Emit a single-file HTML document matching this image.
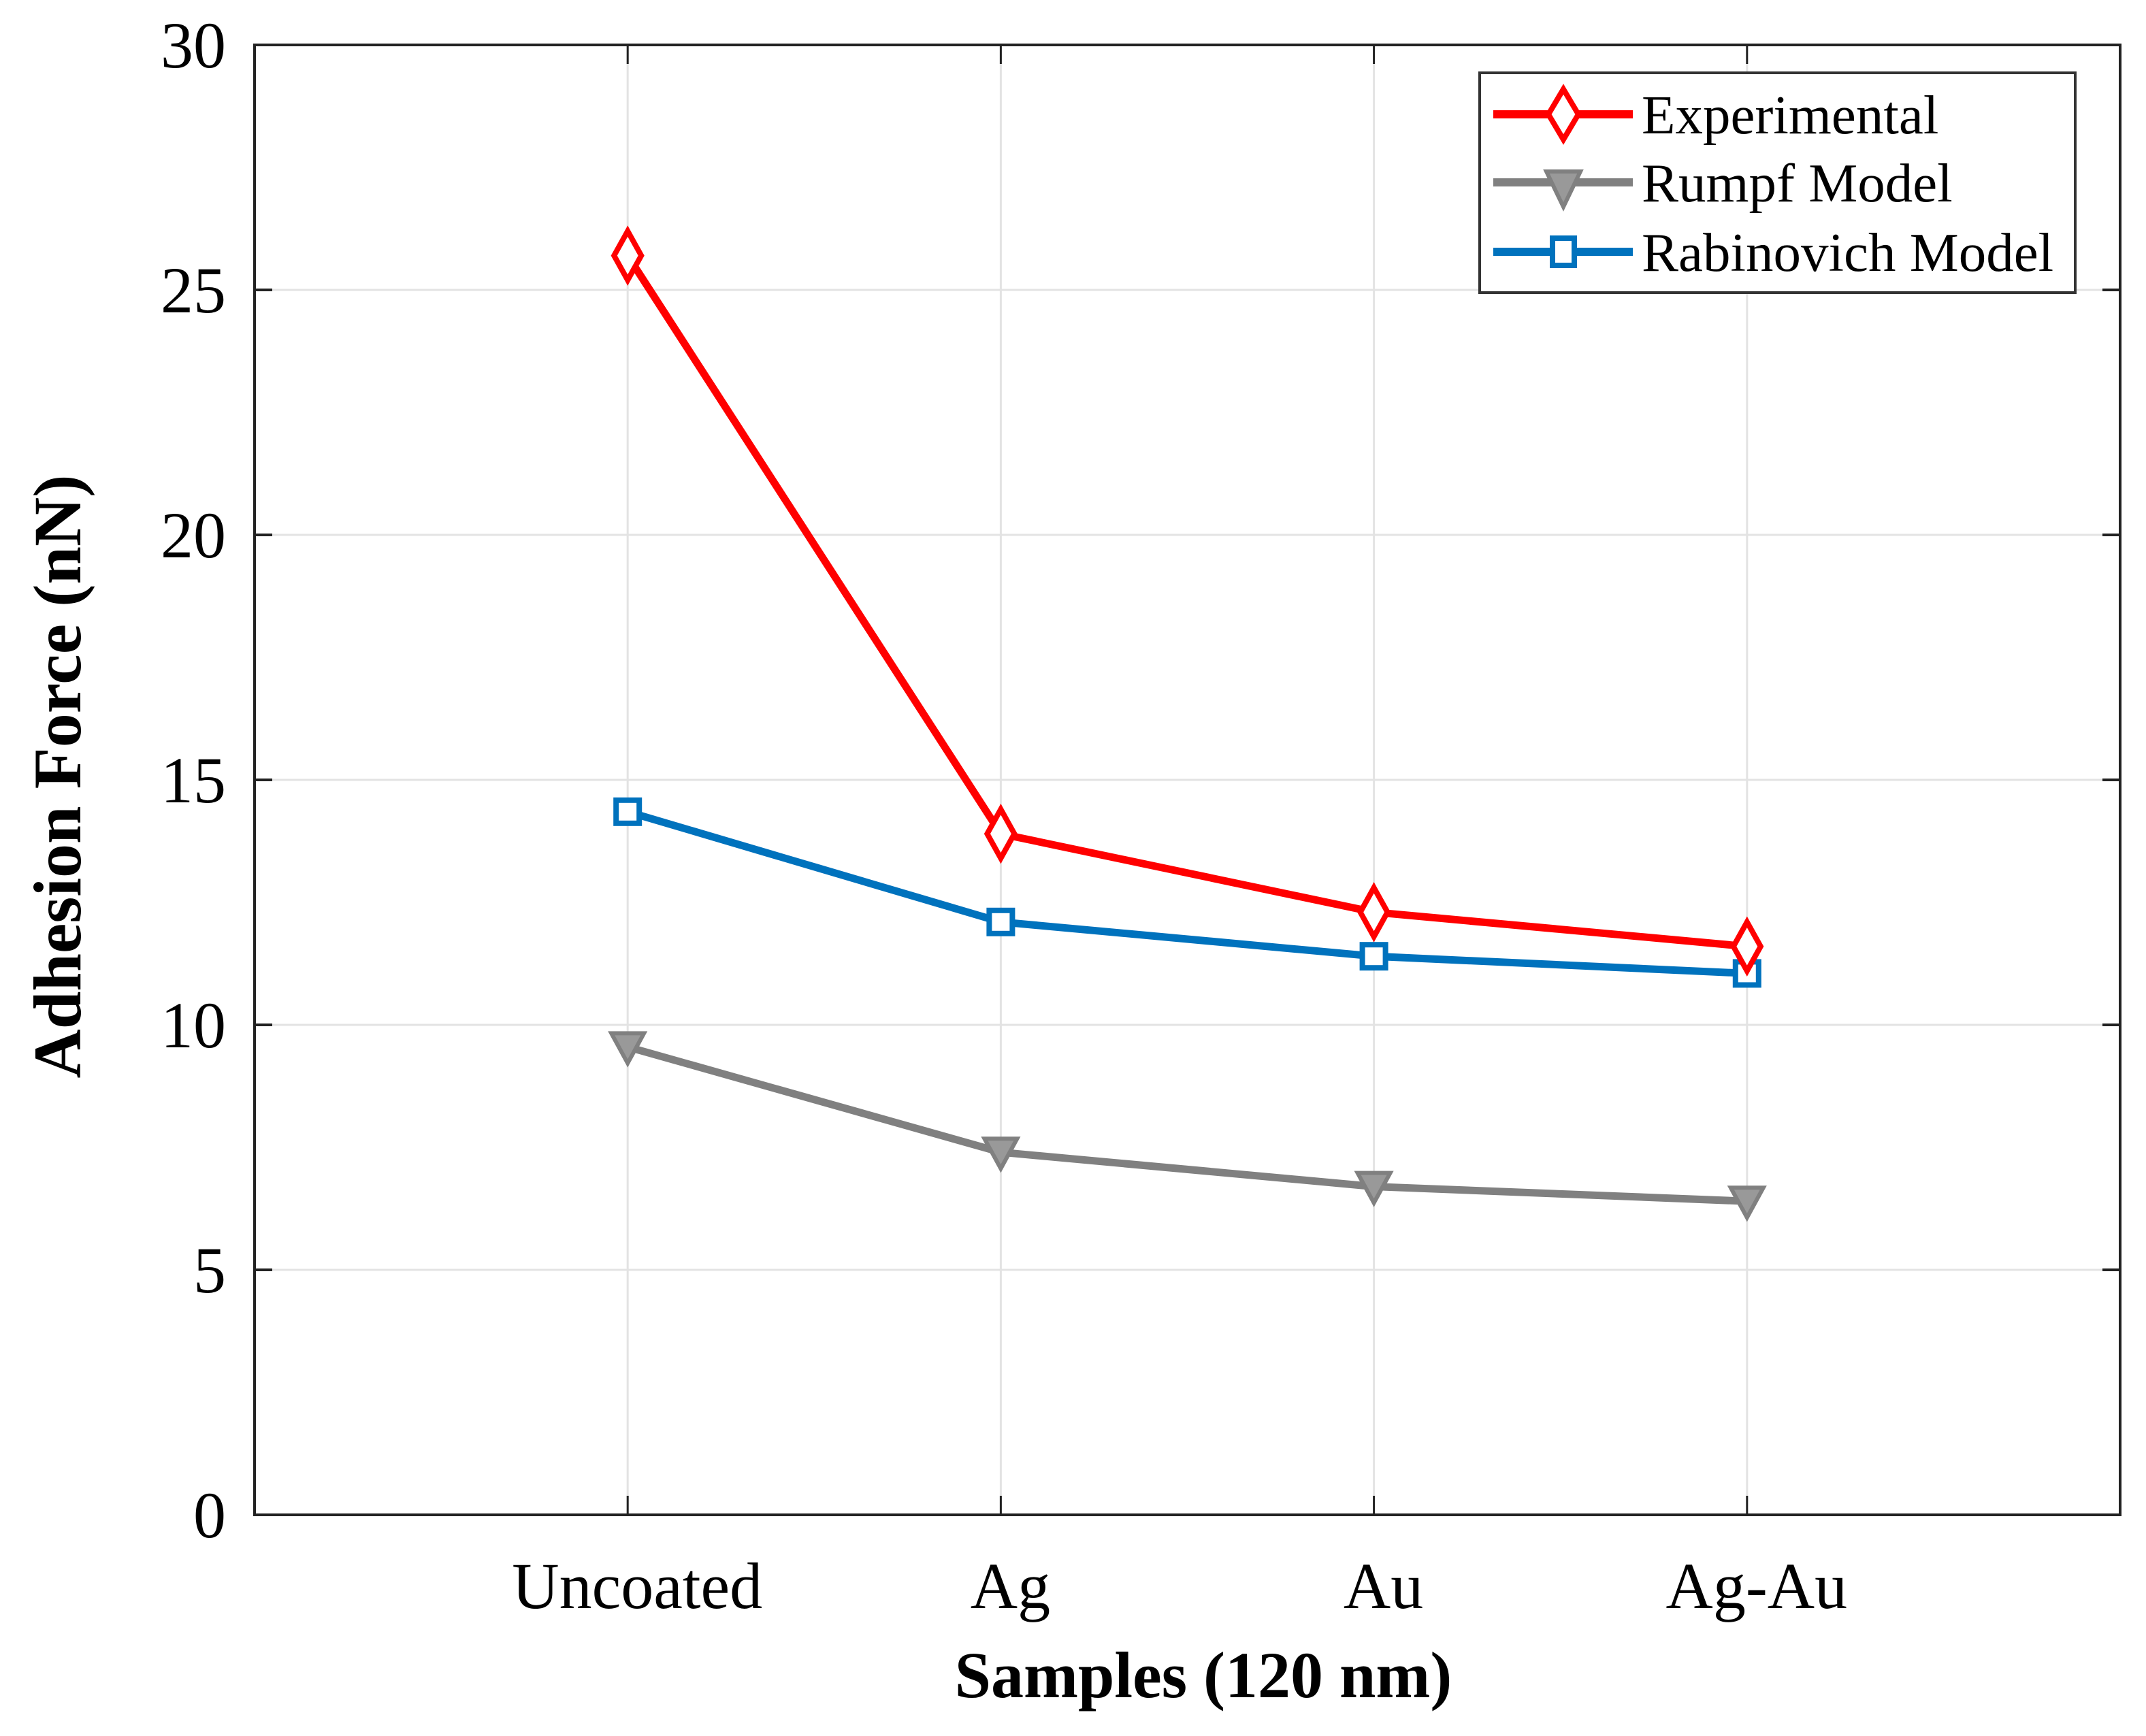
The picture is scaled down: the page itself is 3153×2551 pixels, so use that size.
<!DOCTYPE html>
<html><head><meta charset="utf-8"><style>
html,body{margin:0;padding:0;background:#fff;}
svg text{font-family:"Liberation Serif",serif;}
</style></head><body>
<svg id="chart" width="3153" height="2546" viewBox="0 0 3153 2546" xmlns="http://www.w3.org/2000/svg">
<rect width="3153" height="2546" fill="#fff"/>
<g id="grid"></g>
<g id="series"></g>
<g id="axes"></g>
<text x="1768" y="2494" font-size="96" font-weight="bold" text-anchor="middle">Samples (120 nm)</text>
<text x="0" y="0" font-size="100" font-weight="bold" text-anchor="middle" transform="translate(118,1141) rotate(-90)">Adhesion Force (nN)</text>
<g>
<rect x="2174" y="107" width="875" height="323" fill="#fff" stroke="#333" stroke-width="4"/>
<g>
<line x1="2194" y1="168" x2="2399" y2="168" stroke="#ff0000" stroke-width="12"/>
<polygon points="2297,131 2319,168 2297,205 2275,168" fill="#fff" stroke="#ff0000" stroke-width="8"/>
<text x="2412" y="196" font-size="81">Experimental</text></g>
<g>
<line x1="2194" y1="268" x2="2399" y2="268" stroke="#808080" stroke-width="12"/>
<polygon points="2272,252 2322,252 2297,304" fill="#999" stroke="#808080" stroke-width="6"/>
<text x="2412" y="296" font-size="81">Rumpf Model</text></g>
<g>
<line x1="2194" y1="370" x2="2399" y2="370" stroke="#0072bd" stroke-width="12"/>
<rect x="2281" y="350" width="32" height="40" fill="#fff" stroke="#0072bd" stroke-width="8"/>
<text x="2412" y="398" font-size="81">Rabinovich Model</text></g>
</g>
<script>
const categories = ["Uncoated","Ag","Au","Ag-Au"];
const experimental = [25.7, 13.9, 12.3, 11.6];
const rumpf = [9.55, 7.4, 6.7, 6.4];
const rabinovich = [14.35, 12.1, 11.4, 11.05];
const yTicks = [0,5,10,15,20,25,30];

const L=374,R=3115,T=66,B=2226;
const NS="http://www.w3.org/2000/svg";
function xs(i){return L+(i+1)*(R-L)/5;}
function ys(v){return B-v*(B-T)/30;}
function mk(tag,attrs,parent){const e=document.createElementNS(NS,tag);for(const k in attrs)e.setAttribute(k,attrs[k]);parent.appendChild(e);return e;}
const grid=document.getElementById('grid'),ser=document.getElementById('series'),ax=document.getElementById('axes');
yTicks.forEach(v=>{
  const g=mk('line',{x1:L,x2:R,y1:ys(v),y2:ys(v),stroke:'#e3e3e3','stroke-width':3},grid);
  
  
  const t=mk('text',{x:332,y:ys(v)+33,'font-size':96,'text-anchor':'end'},ax);
  t.textContent=v;
  
  
  mk('line',{x1:L,x2:L+26,y1:ys(v),y2:ys(v),stroke:'#222','stroke-width':4},ax);
  mk('line',{x1:R,x2:R-26,y1:ys(v),y2:ys(v),stroke:'#222','stroke-width':4},ax);
});
categories.forEach((c,i)=>{
  const g=mk('line',{x1:xs(i),x2:xs(i),y1:T,y2:B,stroke:'#e3e3e3','stroke-width':3},grid);
  
  
  mk('line',{x1:xs(i),x2:xs(i),y1:B,y2:B-28,stroke:'#222','stroke-width':3},ax);
  mk('line',{x1:xs(i),x2:xs(i),y1:T,y2:T+28,stroke:'#222','stroke-width':3},ax);
  const t=mk('text',{x:xs(i)+14,y:2363,'font-size':96,'text-anchor':'middle'},ax);
  t.textContent=c;
  
  
});
const frame=mk('rect',{x:L,y:T,width:R-L,height:B-T,fill:'none',stroke:'#222','stroke-width':4},ax);


function series(vals,color,name,marker){
  const pl=mk('polyline',{points:vals.map((v,i)=>xs(i)+','+ys(v)).join(' '),fill:'none',stroke:color,'stroke-width':11,'stroke-linejoin':'round'},ser);
  
  
  vals.forEach((v,i)=>{
    const x=xs(i),y=ys(v);let m;
    if(marker==='d')m=mk('polygon',{points:`${x},${y-36} ${x+20},${y} ${x},${y+36} ${x-20},${y}`,fill:'#fff',stroke:color,'stroke-width':8},ser);
    else if(marker==='v')m=mk('polygon',{points:`${x-24},${y-20} ${x+24},${y-20} ${x},${y+24}`,fill:'#999',stroke:color,'stroke-width':6},ser);
    else m=mk('rect',{x:x-17,y:y-17,width:34,height:34,fill:'#fff',stroke:color,'stroke-width':8},ser);
    
    
  });
}
series(rumpf,'#808080','rumpf','v');
series(rabinovich,'#0072bd','rabinovich','s');
series(experimental,'#ff0000','experimental','d');
</script>
</svg>
</body></html>
